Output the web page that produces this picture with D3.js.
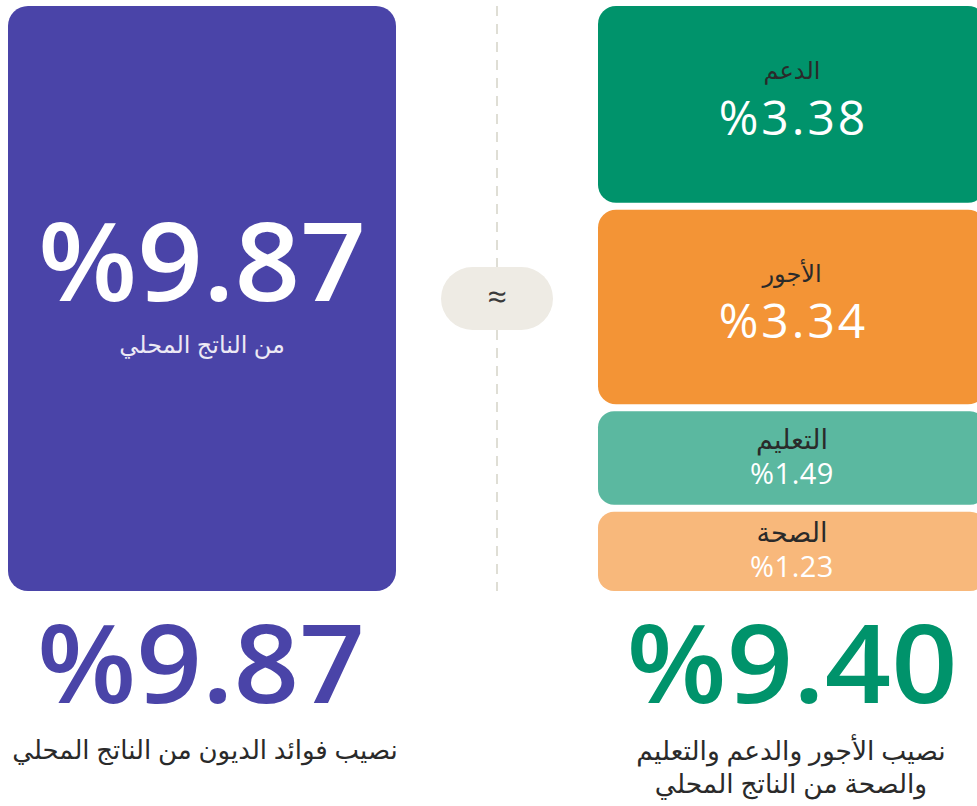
<!DOCTYPE html>
<html lang="ar">
<head>
<meta charset="UTF-8">
<title>نصيب فوائد الديون</title>
<script src="https://d3js.org/d3.v7.min.js"></script>
<style>
  body { margin: 0; background: #fff; }
  .num { font-family: "Open Sans", "Noto Sans", sans-serif; }
  .ar { font-family: "Noto Sans", "DejaVu Sans", sans-serif; }
</style>
</head>
<body>
<div id="chart"></div>
<script>
// data
var debtLabel = "من الناتج المحلي";
var debtValue = 9.87;
var debtCaption = "نصيب فوائد الديون من الناتج المحلي";

var categories = ["الدعم", "الأجور", "التعليم", "الصحة"];
var values = [3.38, 3.34, 1.49, 1.23];
var spendTotal = 9.40;
var spendCaption = ["نصيب الأجور والدعم والتعليم", "والصحة من الناتج المحلي"];

var palette = ["#00936b", "#f39436", "#5bb8a0", "#f8b87b"];

var W = 977, H = 806;
var yTop = 6, yBottom = 591, gap = 7, pad = 12;

var svg = d3.select("#chart").append("svg")
    .attr("width", W)
    .attr("height", H);

var fmt = function(v) { return "%" + d3.format(".2f")(v); };

// left block
var left = {x: 8, w: 388};
svg.append("rect")
    .attr("x", left.x).attr("y", yTop)
    .attr("width", left.w).attr("height", yBottom - yTop)
    .attr("rx", 20)
    .attr("fill", "#4a44a8");

var lc = left.x + left.w / 2, mid = (yTop + yBottom) / 2;
svg.append("text").attr("class", "num")
    .attr("x", lc).attr("y", mid + 2)
    .attr("text-anchor", "middle")
    .attr("fill", "#fff")
    .style("font-size", "108px").style("font-weight", 600)
    .attr("textLength", 328).attr("lengthAdjust", "spacingAndGlyphs")
    .text(fmt(debtValue));
svg.append("text").attr("class", "ar")
    .attr("x", lc).attr("y", mid + 54)
    .attr("text-anchor", "middle")
    .attr("fill", "#ece9f4")
    .style("font-size", "24px")
    .text(debtLabel);

// divider + approx pill
svg.append("line")
    .attr("x1", 497).attr("x2", 497)
    .attr("y1", yTop).attr("y2", yBottom)
    .attr("stroke", "#d5d3c8").attr("stroke-width", 1.5)
    .attr("stroke-dasharray", "10,8");
svg.append("rect")
    .attr("x", 441).attr("y", 267)
    .attr("width", 112).attr("height", 63)
    .attr("rx", 31.5)
    .attr("fill", "#eeebe4");
svg.append("text").attr("class", "num")
    .attr("x", 497).attr("y", 309)
    .attr("text-anchor", "middle")
    .attr("fill", "#3a3a3a")
    .style("font-size", "34px")
    .text("≈");

// right stacked blocks
var right = {x: 598, w: 388};
var avail = yBottom - yTop - gap * (values.length - 1);
var h = d3.scaleLinear()
    .domain([0, d3.sum(values)])
    .range([0, avail - pad * values.length]);

var blocks = [], y0 = yTop;
values.forEach(function(v, i) {
  var bh = h(v) + pad;
  blocks.push({name: categories[i], value: v, y: y0, h: bh, color: palette[i]});
  y0 += bh + gap;
});

var g = svg.selectAll(".block")
    .data(blocks)
  .enter().append("g")
    .attr("class", "block")
    .attr("transform", function(d) { return "translate(" + right.x + "," + d.y + ")"; });

g.append("rect")
    .attr("width", right.w)
    .attr("height", function(d) { return d.h; })
    .attr("rx", function(d) { return d.h > 150 ? 18 : 16; })
    .attr("fill", function(d) { return d.color; });

var rc = right.w / 2;
g.append("text").attr("class", "ar")
    .attr("x", rc)
    .attr("y", function(d) { return d.h / 2 + (d.h > 150 ? -25 : -9); })
    .attr("text-anchor", "middle")
    .attr("fill", "#2a2a2a")
    .style("font-size", function(d) { return d.h > 150 ? "24px" : "27px"; })
    .text(function(d) { return d.name; });

g.append("text").attr("class", "num")
    .attr("x", function(d) { return d.h > 150 ? rc + 1.5 : rc; })
    .attr("y", function(d) { return d.h / 2 + (d.h > 150 ? 31 : 26); })
    .attr("text-anchor", "middle")
    .attr("fill", "#fff")
    .style("font-size", function(d) { return d.h > 150 ? "48px" : "29px"; })
    .style("letter-spacing", function(d) { return d.h > 150 ? "3px" : "0.5px"; })
    .text(function(d) { return fmt(d.value); });

// bottom totals
svg.append("text").attr("class", "num")
    .attr("x", 201).attr("y", 703)
    .attr("text-anchor", "middle")
    .attr("fill", "#4a44a8")
    .style("font-size", "108px").style("font-weight", 600)
    .attr("textLength", 328).attr("lengthAdjust", "spacingAndGlyphs")
    .text(fmt(debtValue));
svg.append("text").attr("class", "ar")
    .attr("x", 205).attr("y", 759)
    .attr("text-anchor", "middle")
    .attr("fill", "#2a2a2a")
    .style("font-size", "26px")
    .text(debtCaption);

svg.append("text").attr("class", "num")
    .attr("x", 792).attr("y", 703)
    .attr("text-anchor", "middle")
    .attr("fill", "#00936b")
    .style("font-size", "108px").style("font-weight", 600)
    .attr("textLength", 331).attr("lengthAdjust", "spacingAndGlyphs")
    .text(fmt(spendTotal));
svg.selectAll(".cap2")
    .data(spendCaption)
  .enter().append("text")
    .attr("class", "ar cap2")
    .attr("x", 791)
    .attr("y", function(d, i) { return 760 + i * 33; })
    .attr("text-anchor", "middle")
    .attr("fill", "#2a2a2a")
    .style("font-size", "26.5px")
    .text(function(d) { return d; });
</script>
</body>
</html>
